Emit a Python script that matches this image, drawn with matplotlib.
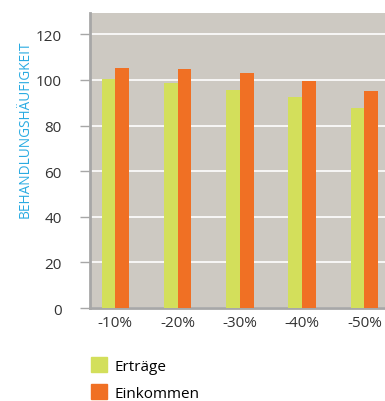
import matplotlib
matplotlib.use('Agg')
import matplotlib.pyplot as plt
import numpy as np
from matplotlib.patches import Patch

# data
categories = ['-10%', '-20%', '-30%', '-40%', '-50%']
ertraege = [100.6, 98.8, 95.7, 92.7, 87.9]
einkommen = [105.1, 104.8, 103.2, 99.7, 95.0]
series_names = ['Erträge', 'Einkommen']
yticks = [0, 20, 40, 60, 80, 100, 120]

plt.rcParams['font.family'] = ['Open Sans', 'DejaVu Sans']

col_green = '#d3df5b'
col_orange = '#f07024'
col_bg = '#cdc9c2'
col_axis = '#a7a7a7'

fig = plt.figure(figsize=(3.85, 4.02), dpi=100)
ax = fig.add_axes([0.2325, 0.2313, 0.7675, 0.734])
ax.set_facecolor(col_bg)

x = np.arange(len(categories))
w = 0.22
ax.bar(x - w / 2, ertraege, w, color=col_green, zorder=3)
ax.bar(x + w / 2, einkommen, w, color=col_orange, zorder=3)

ax.set_xlim(-0.414, 4.33)
ax.set_ylim(0, 129.4)
ax.set_yticks(yticks)
ax.set_xticks(x)
ax.set_xticklabels(categories)
ax.yaxis.grid(True, color='white', linewidth=1.2, zorder=1)
ax.set_axisbelow(True)

for s in ['top', 'right']:
    ax.spines[s].set_visible(False)
for s in ['left', 'bottom']:
    ax.spines[s].set_color(col_axis)
    ax.spines[s].set_linewidth(2)

ax.tick_params(axis='y', length=7, width=1, color=col_axis, labelsize=11,
               labelcolor='#333333', pad=13)
ax.tick_params(axis='x', length=0, labelsize=11, labelcolor='#333333', pad=5)

fig.text(0.065, 1 - 129 / 402, 'BEHANDLUNGSHÄUFIGKEIT', rotation=90,
         color='#29abe2', fontsize=9.8, ha='center', va='center')

handles = [Patch(color=col_green), Patch(color=col_orange)]
fig.legend(handles, series_names, loc='upper left', bbox_to_anchor=(0.236, 0.109),
           frameon=False, fontsize=11, handlelength=1.05, handleheight=1.1,
           handletextpad=0.5, labelspacing=0.7, borderaxespad=0, borderpad=0)

fig.savefig('out.png', dpi=100)
plt.close(fig)
